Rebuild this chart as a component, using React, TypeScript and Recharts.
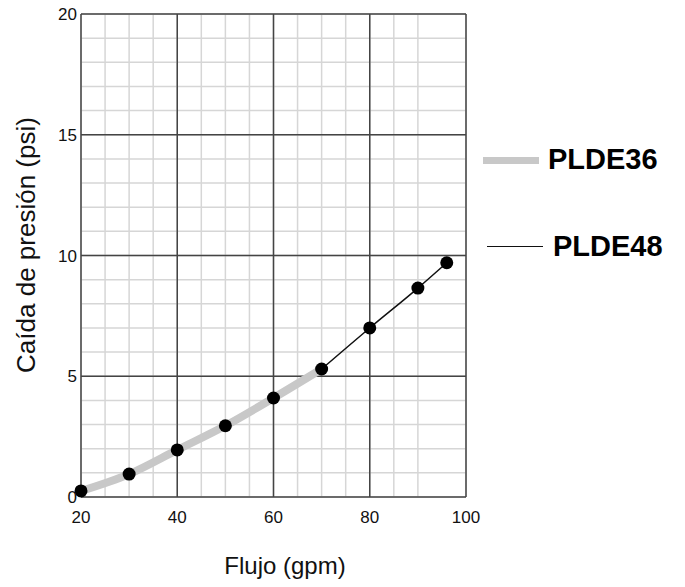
import React from 'react'
import { ComposedChart, Line, Scatter, XAxis, YAxis, CartesianGrid } from 'recharts'

const flow = [20, 30, 40, 50, 60, 70, 80, 90, 96]
const pressure = [0.25, 0.95, 1.95, 2.95, 4.1, 5.3, 7.0, 8.65, 9.7]
const plde36Flows = [20, 30, 40, 50, 60, 70]
const plde48Flows = [70, 80, 90, 96]

const xTicks = [20, 40, 60, 80, 100]
const yTicks = [0, 5, 10, 15, 20]
const xMinor = [20, 25, 30, 35, 40, 45, 50, 55, 60, 65, 70, 75, 80, 85, 90, 95, 100]
const yMinor = [0, 1, 2, 3, 4, 5, 6, 7, 8, 9, 10, 11, 12, 13, 14, 15, 16, 17, 18, 19, 20]

const data = flow.map((x, i) => ({
  x,
  y: pressure[i],
  plde36: plde36Flows.includes(x) ? pressure[i] : null,
  plde48: plde48Flows.includes(x) ? pressure[i] : null,
}))

const font = '"Liberation Sans", Arial, sans-serif'

export default function App() {
  return (
    <div style={{ position: 'absolute', left: 0, top: 0, width: 685, height: 587, fontFamily: font }}>
      <ComposedChart
        width={685}
        height={587}
        data={data}
        margin={{ top: 14, right: 219, bottom: 60, left: 41 }}
      >
        <CartesianGrid
          stroke="#d6d6d6"
          strokeWidth={1.5}
          verticalValues={xMinor}
          horizontalValues={yMinor}
        />
        <CartesianGrid
          stroke="#444"
          strokeWidth={1.5}
          verticalValues={xTicks}
          horizontalValues={yTicks}
        />
        <XAxis
          type="number"
          dataKey="x"
          domain={[20, 100]}
          ticks={xTicks}
          axisLine={false}
          tickLine={false}
          tickSize={0}
          tickMargin={14}
          height={30}
          tick={{ fill: '#111', fontSize: 17, fontFamily: font }}
        />
        <YAxis
          type="number"
          domain={[0, 20]}
          ticks={yTicks}
          axisLine={false}
          tickLine={false}
          tickSize={0}
          tickMargin={4}
          width={40}
          tick={{ fill: '#111', fontSize: 17, fontFamily: font }}
        />
        <Line
          dataKey="plde36"
          type="monotone"
          stroke="#c8c8c8"
          strokeWidth={8}
          dot={false}
          activeDot={false}
          isAnimationActive={false}
        />
        <Line
          dataKey="plde48"
          type="monotone"
          stroke="#111"
          strokeWidth={1.5}
          dot={false}
          activeDot={false}
          isAnimationActive={false}
        />
        <Scatter
          dataKey="y"
          fill="#000"
          shape={(p: any) => <circle cx={p.cx} cy={p.cy} r={6.5} fill="#000" />}
          isAnimationActive={false}
        />
      </ComposedChart>

      <div style={{ position: 'absolute', left: 483, top: 157, width: 56, height: 7, background: '#c8c8c8' }} />
      <div style={{ position: 'absolute', left: 548, top: 159, transform: 'translateY(-50%)', fontSize: 29, fontWeight: 700, lineHeight: 1, color: '#000' }}>
        PLDE36
      </div>
      <div style={{ position: 'absolute', left: 487, top: 246, width: 56, height: 1.3, background: '#111' }} />
      <div style={{ position: 'absolute', left: 553, top: 246, transform: 'translateY(-50%)', fontSize: 29, fontWeight: 700, lineHeight: 1, color: '#000' }}>
        PLDE48
      </div>

      <div
        style={{
          position: 'absolute',
          left: 26,
          top: 245,
          transform: 'translate(-50%, -50%) rotate(-90deg)',
          whiteSpace: 'nowrap',
          fontSize: 26,
          lineHeight: 1,
          color: '#111',
        }}
      >
        Caída de presión (psi)
      </div>
      <div
        style={{
          position: 'absolute',
          left: 285,
          top: 566,
          transform: 'translate(-50%, -50%)',
          whiteSpace: 'nowrap',
          fontSize: 24,
          lineHeight: 1,
          color: '#111',
        }}
      >
        Flujo (gpm)
      </div>
    </div>
  )
}
